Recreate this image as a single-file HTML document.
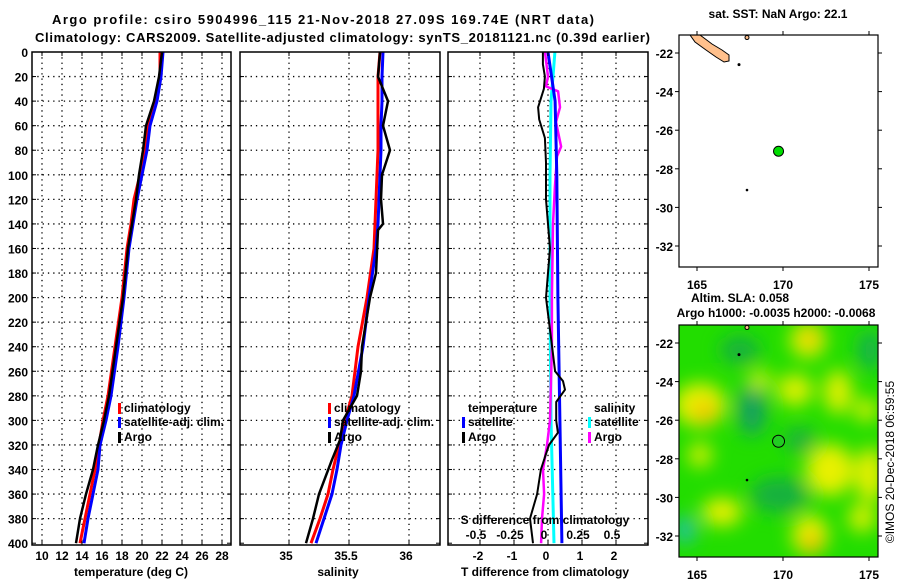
<!DOCTYPE html>
<html><head><meta charset="utf-8"><style>
html,body{margin:0;padding:0;background:#fff;}
svg{display:block;font-family:"Liberation Sans",sans-serif;font-weight:bold;}
</style></head><body>
<svg id="fig" width="900" height="580" viewBox="0 0 900 580">
<defs>
<filter id="blur" x="-20%" y="-20%" width="140%" height="140%"><feGaussianBlur stdDeviation="9"/></filter>
<clipPath id="clipP1"><rect x="32" y="52" width="199" height="493"/></clipPath>
<clipPath id="clipP2"><rect x="240" y="52" width="200" height="493"/></clipPath>
<clipPath id="clipP3"><rect x="448" y="52" width="200" height="493"/></clipPath>
<clipPath id="clipM1"><rect x="679" y="35" width="199" height="232"/></clipPath>
<clipPath id="clipM2"><rect x="679" y="325" width="199" height="232"/></clipPath>
</defs>
<text x="52" y="24" font-size="13" textLength="542">Argo profile: csiro 5904996_115 21-Nov-2018 27.09S 169.74E (NRT data)</text>
<text x="35" y="42" font-size="13" textLength="615">Climatology: CARS2009. Satellite-adjusted climatology: synTS_20181121.nc (0.39d earlier)</text>
<g id="g1"></g>
<g id="g2"></g>
<g id="g3"></g>
<g id="gm1"></g>
<g id="gm2"></g>
<text transform="translate(894,462) rotate(-90)" text-anchor="middle" font-size="12" font-weight="normal">©IMOS 20-Dec-2018 06:59:55</text>
</svg>
<script>
const NS="http://www.w3.org/2000/svg";
// ---- data ----
const depths=[0,20,40,60,80,100,120,140,160,200,240,280,300,320,340,360,380,400];
const tempClim=[21.8,21.8,21.3,20.6,20.3,19.8,19.2,18.9,18.5,18.0,17.3,16.6,16.1,15.7,15.3,14.8,14.3,13.8];
const tempSat=[22.1,21.9,21.5,20.8,20.5,20.0,19.5,19.1,18.7,18.2,17.6,16.9,16.4,15.8,15.6,15.1,14.6,14.2];
const tempArgo=[22.0,21.7,21.2,20.4,20.1,19.7,19.4,19.0,18.6,18.1,17.4,16.7,16.2,15.6,15.1,14.4,13.8,13.4];
const salClim=[35.758,35.742,35.742,35.742,35.742,35.733,35.725,35.717,35.708,35.65,35.575,35.525,35.467,35.417,35.367,35.325,35.258,35.183];
const salSat=[35.783,35.775,35.775,35.767,35.767,35.758,35.75,35.742,35.725,35.667,35.617,35.542,35.483,35.433,35.4,35.358,35.292,35.225];
const salArgoDepths=[0,20,40,60,80,100,120,140,145,180,200,240,260,280,300,316,332,360,380,400];
const salArgo=[35.758,35.742,35.825,35.783,35.842,35.775,35.767,35.783,35.742,35.725,35.675,35.608,35.6,35.567,35.45,35.425,35.358,35.25,35.2,35.142];
const dTArgoDepths=[0,10,20,30,45,55,70,90,120,160,200,240,260,268,275,285,300,310,320,330,340,360,380,400];
const dTArgo=[-0.15,-0.15,-0.09,-0.12,-0.29,-0.26,-0.09,-0.06,-0.06,0.06,-0.06,0.12,0.21,0.44,0.5,0.24,0.24,0.29,0.03,-0.09,-0.21,-0.32,-0.53,-0.44];
const dTSatDepths=[0,40,100,200,300,400];
const dTSat=[0,0.21,0.26,0.29,0.35,0.41];
const dSArgoDepths=[0,20,28,32,45,57,77,85,110,140,200,240,300,320,340,360,380,400];
const dSArgo=[-0.022,0,-0.015,0.074,0.088,0.059,0.096,0.066,0.051,0.037,0.029,0.029,0.015,-0.007,-0.037,-0.029,-0.044,-0.051];
const dSSatDepths=[0,20,40,100,200,300,400];
const dSSat=[0.051,0.037,0.022,0.015,0.015,0.022,0.044];
const depthTicks=[0,20,40,60,80,100,120,140,160,180,200,220,240,260,280,300,320,340,360,380,400];
const tempTicks=[10,12,14,16,18,20,22,24,26,28];
const salTicks=[35,35.5,36];
const dTTicks=[-2,-1,0,1,2];
const dSTickLabels=["-0.5","-0.25","0","0.25","0.5"];
const dSTicks=[-0.5,-0.25,0,0.25,0.5];
const lonTicks=[165,170,175];
const latTicks=[-22,-24,-26,-28,-30,-32];
const argoLon=169.74, argoLat=-27.09;
// ---- scales ----
const yD=d=>52+d*1.228;
const xT=t=>42+(t-10)*10;
const xS=s=>289+(s-35)*120;
const xdT=v=>548+v*34;
const xdS=v=>548+v*136;
const xLon=l=>697+(l-165)*17.2;
const yLat1=l=>53+(-22-l)*19.3;
const yLat2=l=>343+(-22-l)*19.3;

function el(tag,attrs,parent){const e=document.createElementNS(NS,tag);for(const k in attrs)e.setAttribute(k,attrs[k]);parent.appendChild(e);return e;}
function txt(s,x,y,parent,anchor,size){const t=el('text',{x:x,y:y,'text-anchor':anchor||'middle','font-size':size||12},parent);t.textContent=s;return t;}

function panel(g,x0,x1,vgrid,clip){
  const gr=el('g',{'clip-path':'url(#'+clip+')'},g);
  depthTicks.forEach(d=>{if(d>0&&d<400){const l=el('line',{x1:x0,x2:x1,y1:yD(d),y2:yD(d),stroke:'#000','stroke-width':1.3,'stroke-dasharray':'1.3,4'},gr);
    
    }
    el('line',{x1:x0,x2:x0+4,y1:yD(d),y2:yD(d),stroke:'#000'},g);
    el('line',{x1:x1-4,x2:x1,y1:yD(d),y2:yD(d),stroke:'#000'},g);});
  vgrid.forEach(x=>{const l=el('line',{x1:x,x2:x,y1:52,y2:545,stroke:'#000','stroke-width':1.3,'stroke-dasharray':'1.3,4'},gr);
    
    
    el('line',{x1:x,x2:x,y1:545,y2:541,stroke:'#000'},g);el('line',{x1:x,x2:x,y1:52,y2:56,stroke:'#000'},g);});
  const f=el('rect',{x:x0,y:52,width:x1-x0,height:493,fill:'none',stroke:'#000','stroke-width':1.5},g);
  
  
  return gr;
}
function series(gr,ds,vs,xf,color,w,name){
  const pts=ds.map((d,i)=>xf(vs[i]).toFixed(1)+','+yD(d).toFixed(1)).join(' ');
  const p=el('polyline',{points:pts,fill:'none',stroke:color,'stroke-width':w,'stroke-linejoin':'round'},gr);
  
  
}
function legend(g,x,y,color,label,name){
  const r=el('rect',{x:x,y:y-9,width:3,height:11,fill:color},g);
  
  
  const t=txt(label,x+6,y,g,'start',12);
  
  
}
// panel 1
const g1=document.getElementById('g1');
const p1=panel(g1,32,231,tempTicks.map(xT),'clipP1');
series(p1,depths,tempClim,xT,'#f00',3,'temp-climatology-line');
series(p1,depths,tempSat,xT,'#00f',3,'temp-satellite-line');
series(p1,depths,tempArgo,xT,'#000',2.5,'temp-argo-line');
depthTicks.forEach(d=>{const t=txt(String(d),28,yD(d)+5,g1,'end',12);
  
  });
tempTicks.forEach(v=>{const t=txt(String(v),xT(v),560,g1,'middle',12);
  
  });
txt('temperature (deg C)',131,576,g1,'middle',12);
legend(g1,118,412,'#f00','climatology','legend-climatology');
legend(g1,118,426,'#00f','satellite-adj. clim.','legend-satellite');
legend(g1,118,441,'#000','Argo','legend-argo');
// panel 2
const g2=document.getElementById('g2');
const p2=panel(g2,240,440,salTicks.map(xS),'clipP2');
series(p2,depths,salClim,xS,'#f00',3,'sal-climatology-line');
series(p2,depths,salSat,xS,'#00f',3,'sal-satellite-line');
series(p2,salArgoDepths,salArgo,xS,'#000',2.5,'sal-argo-line');
salTicks.forEach(v=>{const t=txt(String(v),xS(v)-3,560,g2,'middle',12);
  
  });
txt('salinity',338,576,g2,'middle',12);
legend(g2,328,412,'#f00','climatology','legend2-climatology');
legend(g2,328,426,'#00f','satellite-adj. clim.','legend2-satellite');
legend(g2,328,441,'#000','Argo','legend2-argo');
// panel 3
const g3=document.getElementById('g3');
const p3=panel(g3,448,648,dTTicks.map(xdT),'clipP3');
series(p3,dSSatDepths,dSSat,xdS,'#0ff',3,'sdiff-satellite-line');
series(p3,dSArgoDepths,dSArgo,xdS,'#f0f',2.5,'sdiff-argo-line');
series(p3,dTSatDepths,dTSat,xdT,'#00f',3,'tdiff-satellite-line');
series(p3,dTArgoDepths,dTArgo,xdT,'#000',2,'tdiff-argo-line');
dTTicks.forEach(v=>{const t=txt(String(v),xdT(v)-2,560,g3,'middle',12);
  
  });
dSTicks.forEach((v,i)=>{const t=txt(dSTickLabels[i],xdS(v)-4,539,g3,'middle',12);
  
  });
txt('S difference from climatology',545,524,g3,'middle',12);
txt('T difference from climatology',545,576,g3,'middle',12);
txt('temperature',468,412,g3,'start',12);
legend(g3,462,426,'#00f','satellite','legend3-t-satellite');
legend(g3,462,441,'#000','Argo','legend3-t-argo');
txt('salinity',594,412,g3,'start',12);
legend(g3,588,426,'#0ff','satellite','legend3-s-satellite');
legend(g3,588,441,'#f0f','Argo','legend3-s-argo');
// maps
function map(g,top,yLat,clip,bgFn,ptFill,ptR){
  const c=el('g',{'clip-path':'url(#'+clip+')'},g);
  bgFn(c);
  const land=el('polygon',{points:'690,35 700,35 712,44 722,50 729,55 729,61 724,62 716,57 706,50 695,42',fill:'#ffc08c',stroke:'#000','stroke-width':1},c);
  
  
  el('circle',{cx:739,cy:yLat(-22.6),r:1.5,fill:'#000'},c);
  el('circle',{cx:747,cy:yLat(-21.2),r:2,fill:'#ffc08c',stroke:'#000'},c);
  el('circle',{cx:747,cy:yLat(-29.1),r:1.3,fill:'#000'},c);
  const pt=el('circle',{cx:xLon(argoLon),cy:yLat(argoLat),r:ptR,fill:ptFill,stroke:'#000','stroke-width':1},c);
  
  
  const f=el('rect',{x:679,y:top,width:199,height:232,fill:'none',stroke:'#000','stroke-width':1.2},g);
  
  
  lonTicks.forEach(l=>{el('line',{x1:xLon(l),x2:xLon(l),y1:top,y2:top-4,stroke:'#000'},g);
    el('line',{x1:xLon(l),x2:xLon(l),y1:top+232,y2:top+236,stroke:'#000'},g);
    const t=txt(String(l),xLon(l),top+254,g,'middle',12);
    
    });
  latTicks.forEach(l=>{el('line',{x1:679,x2:675,y1:yLat(l),y2:yLat(l),stroke:'#000'},g);
    el('line',{x1:878,x2:882,y1:yLat(l),y2:yLat(l),stroke:'#000'},g);
    const t=txt(String(l),673,yLat(l)+5,g,'end',12);
    
    });
}
const gm1=document.getElementById('gm1');
map(gm1,35,yLat1,'clipM1',c=>{el('rect',{x:679,y:35,width:199,height:232,fill:'#fff'},c);},'#0d0',5);
txt('sat. SST: NaN Argo: 22.1',778,18,gm1,'middle',12);
const gm2=document.getElementById('gm2');
map(gm2,325,yLat2,'clipM2',c=>{
  el('rect',{x:679,y:325,width:199,height:232,fill:'#22dd00'},c);
  const bl=el('g',{filter:'url(#blur)'},c);
  [[752,410,14,26,'#12a060'],[780,495,30,18,'#14b040'],[685,530,10,14,'#20c0b0'],[740,350,20,14,'#18b040'],[870,350,12,20,'#18b050'],[800,440,16,12,'#1ab040'],
   [700,405,26,22,'#e8f000'],[705,412,12,10,'#f0c000'],[808,340,18,18,'#e0f000'],[810,338,8,10,'#f0c800'],[795,390,18,16,'#dcf000'],[838,392,14,22,'#e0f000'],
   [830,470,24,26,'#e8f000'],[870,475,14,28,'#e8f000'],[700,455,12,12,'#d8f000'],[722,512,20,14,'#e8f000'],[810,535,18,20,'#e8f000'],[812,543,8,10,'#f0b000'],
   [862,518,14,14,'#d8f000'],[760,380,12,10,'#c8f000'],[866,410,12,12,'#d0f000']]
   .forEach(e=>el('ellipse',{cx:e[0],cy:e[1],rx:e[2],ry:e[3],fill:e[4]},bl));
},'#2c2',6);
txt('Altim. SLA: 0.058',740,302,gm2,'middle',12);
txt('Argo h1000: -0.0035 h2000: -0.0068',776,317,gm2,'middle',12);
</script>
</body></html>
